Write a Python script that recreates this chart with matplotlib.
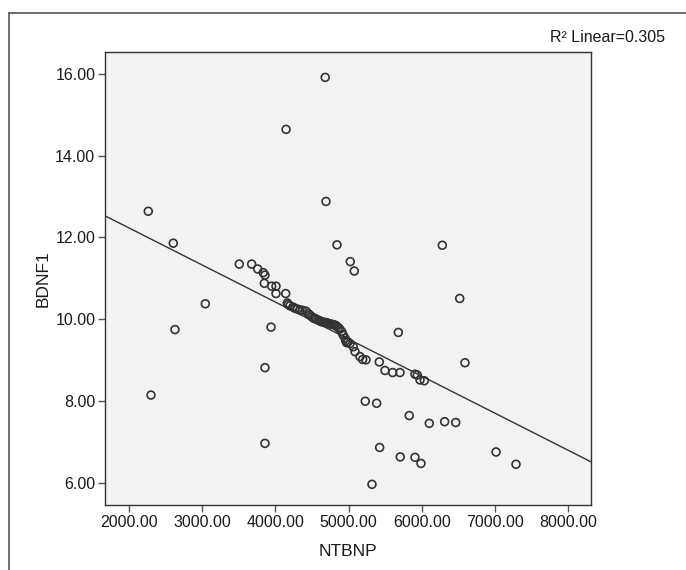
import matplotlib
matplotlib.use("Agg")
import matplotlib.pyplot as plt
from matplotlib.lines import Line2D
import numpy as np

plt.rcParams["font.family"] = ["Liberation Sans Narrow", "Liberation Sans", "DejaVu Sans"]

# NTBNP (x) and BDNF1 (y)
ntbnp = [
    4680, 4145, 2260, 2602, 4691, 4841, 5023, 5078, 3040, 2625,
    3939, 3856, 2297, 5680, 6282, 6520, 6592,
    3505, 3674, 3757, 3833, 3856, 3847, 3948, 4007, 4007, 4140,
    4162, 4175, 4198, 4240, 4267, 4300, 4335, 4370, 4417, 4450,
    4472, 4500, 4520, 4540, 4560, 4586, 4610, 4632, 4660, 4680,
    4700, 4725, 4746, 4770, 4790, 4814, 4835, 4859, 4880, 4906,
    4925, 4951, 4960, 4974, 4990, 5019, 5064, 5088, 5156, 5193,
    5238, 5420, 5498, 5603, 5703, 5908, 5940, 5977, 6036,
    3856, 5228, 5384, 5830, 6104, 6314, 6465, 5425, 5707, 5908,
    5990, 7017, 7290, 5320,
]
bdnf1 = [
    15.91, 14.64, 12.64, 11.86, 12.88, 11.82, 11.41, 11.18, 10.38, 9.75,
    9.81, 8.82, 8.15, 9.68, 11.81, 10.51, 8.94,
    11.35, 11.35, 11.23, 11.14, 11.08, 10.88, 10.81, 10.81, 10.63, 10.63,
    10.40, 10.36, 10.33, 10.30, 10.27, 10.25, 10.23, 10.22, 10.20, 10.14,
    10.10, 10.06, 10.03, 10.02, 10.00, 9.98, 9.96, 9.94, 9.93, 9.92,
    9.92, 9.90, 9.89, 9.88, 9.87, 9.86, 9.84, 9.80, 9.76, 9.70,
    9.62, 9.54, 9.48, 9.43, 9.45, 9.41, 9.33, 9.21, 9.09, 9.02,
    9.01, 8.96, 8.75, 8.70, 8.70, 8.66, 8.64, 8.52, 8.50,
    6.97, 8.00, 7.95, 7.65, 7.46, 7.50, 7.48, 6.87, 6.64, 6.63,
    6.48, 6.76, 6.46, 5.97,
]

x_ticks = [2000, 3000, 4000, 5000, 6000, 7000, 8000]
y_ticks = [6, 8, 10, 12, 14, 16]
r2_label = "R\u00b2 Linear=0.305"

dark = "#333333"
ink = "#1a1a1a"

fig = plt.figure(figsize=(6.86, 5.70), dpi=100)
ax = fig.add_axes([105 / 686, 65 / 570, 486 / 686, 453 / 570])
ax.set_facecolor("#f2f2f2")

ax.scatter(ntbnp, bdnf1, s=32, facecolors="none", edgecolors=dark,
           linewidths=1.2, zorder=3)

# least-squares fit line across the full x range
slope, intercept = np.polyfit(ntbnp, bdnf1, 1)
x_lo, x_hi = 1668, 8316
ax.plot([x_lo, x_hi], [intercept + slope * x_lo, intercept + slope * x_hi],
        color=dark, linewidth=1.0, zorder=2)

ax.set_xlim(x_lo, x_hi)
ax.set_ylim(5.465, 16.53)
ax.set_xticks(x_ticks)
ax.set_xticklabels([f"{v:.2f}" for v in x_ticks])
ax.set_yticks(y_ticks)
ax.set_yticklabels([f"{v:.2f}" for v in y_ticks])
ax.tick_params(direction="out", length=5, width=1, color="#555555",
               labelsize=11.5, labelcolor=ink, pad=2)
for sp in ax.spines.values():
    sp.set_color(dark)
    sp.set_linewidth(1.0)

ax.set_xlabel("NTBNP", fontsize=12.5, color=ink, labelpad=10)
ax.set_ylabel("BDNF1", fontsize=12.5, color=ink, labelpad=3)

fig.text(665 / 686, 1 - 38 / 570, r2_label, ha="right", va="center",
         fontsize=11.5, color=ink)

# outer frame (left and top edges visible)
fig.add_artist(Line2D([9 / 686, 9 / 686], [0, 1 - 12.5 / 570],
                      color="#555555", linewidth=1.2, transform=fig.transFigure))
fig.add_artist(Line2D([9 / 686, 1], [1 - 12.5 / 570, 1 - 12.5 / 570],
                      color="#555555", linewidth=1.2, transform=fig.transFigure))

fig.savefig("out.png", dpi=100)
